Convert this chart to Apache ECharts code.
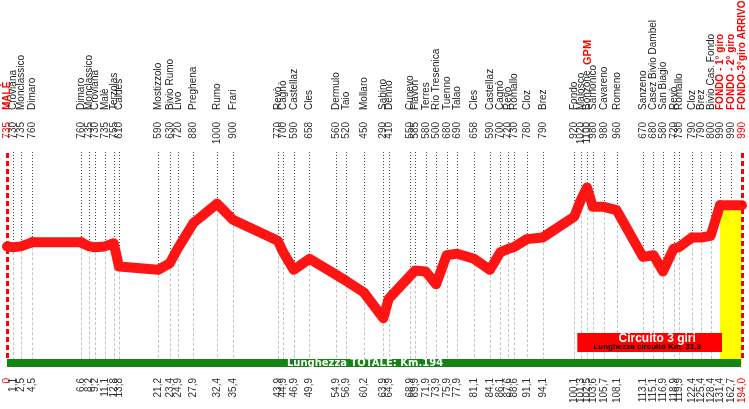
<!DOCTYPE html>
<html><head><meta charset="utf-8">
<script src="https://cdn.jsdelivr.net/npm/echarts@6/dist/echarts.min.js"></script>
<style>html,body{margin:0;padding:0;background:#fff}#c{width:749px;height:409px}</style>
</head><body><div id="c"></div>
<script>
// ---- data ----
const places = ['MALÈ','Croviana','Monclassico','Dimaro','Dimaro','Monclassico','Croviana','Malè','Terzolas','Caldes',
 'Mostizzolo','Bivio Rumo','Livo','Preghena','Rumo','Frari','Revò','Cagnò','Castellaz','Cles',
 'Dermulo','Taio','Mollaro','Sabino','Denno','Cunevo','Flavon','Terres','Rio Tresenica','Tuenno',
 'Talao','Cles','Castellaz','Cagnò','Revò','Romallo','Cloz','Brez','Fondo','Malosco',
 'Bonzone','Sarnonico','Cavareno','Romeno','Sanzeno','Casez Bivio Dambel','San Biagio','Revò','Romallo','Cloz',
 'Brez','Bivio Cas. Fondo','FONDO - 1° giro','FONDO - 2° giro','FONDO-3°giro ARRIVO'];
const altitudes = [735,730,735,760,760,735,730,735,755,610,
 590,630,720,880,1000,900,770,700,590,658,
 560,520,450,290,410,550,585,580,500,680,
 690,658,590,700,720,730,780,790,920,1020,
 1100,980,980,960,670,680,580,720,730,790,
 790,800,990,990,990];
const km = [0,1.1,2.5,4.5,6.6,8.2,9.2,11.1,12.8,13.8,
 21.2,23.4,24.9,27.9,32.4,35.4,43.9,44.9,46.9,49.9,
 54.9,56.9,60.2,63.9,64.9,68.9,69.9,71.9,73.9,75.9,
 77.9,81.1,84.1,86.1,87.6,88.6,91.1,94.1,100.1,101.3,
 102.5,103.6,105.7,108.1,113.1,115.1,116.9,118.9,119.9,122.4,
 125.4,128.4,131.4,162.7,194.0];
const gpmPlace = 'Bonzone';
const redPlaces = [0, 52, 53, 54];
const circuitStartKm = 100.1;
const circuitEndKm = 131.4;
const circuitLaps = 3;
const circuitLength = '31,3';

// ---- layout (piecewise horizontal scale of the original drawing) ----
const segments = [
  {from: 0,     to: 4.5,   left: 7,   width: 25},
  {from: 4.5,   to: 6.6,   left: 32,  width: 49},
  {from: 6.6,   to: 122.4, left: 81,  width: 611},
  {from: 122.4, to: 131.4, left: 692, width: 28},
  {from: 131.4, to: 194.0, left: 720, width: 22, covered: true}
];
const Y_MAX = 1320, GRID_TOP = 152, GRID_H = 213;
const FONT = '"Liberation Sans", Arial, sans-serif';
const LINE_RED = '#ff1414';
const last = km.length - 1;

function fmtKm(v) { return v === 0 ? '0' : v.toFixed(1).replace('.', ','); }

function makeRender(seg) {
  return function (params, api) {
    const i = api.value(2);
    const k = api.value(0), a = api.value(1);
    const top = api.coord([k, Y_MAX]);
    const p = api.coord([k, a]);
    const bot = api.coord([k, 0]);
    const x = Math.round(p[0]) + 0.5;
    const endpoint = (i === 0 || i === last);
    const children = [];
    if (endpoint) {
      children.push({type: 'line', shape: {x1: x, y1: top[1] + 1, x2: x, y2: bot[1] - 4},
        style: {stroke: '#ff0000', lineWidth: 3, lineDash: [5, 3]}});
    } else {
      children.push({type: 'line', shape: {x1: x, y1: top[1], x2: x, y2: p[1] - 5},
        style: {stroke: '#444', lineWidth: 1, lineDash: [1, 2]}});
      if (!seg.covered) {
        children.push({type: 'line', shape: {x1: x, y1: p[1] + 5, x2: x, y2: bot[1]},
          style: {stroke: '#c4c4c4', lineWidth: 1, lineDash: [3, 2]}});
      }
    }
    const isRed = redPlaces.indexOf(i) >= 0;
    const nameStyle = {
      text: places[i], fill: isRed ? '#ff0000' : '#222',
      font: (isRed ? 'bold ' : '') + '10px ' + FONT,
      align: 'left', verticalAlign: 'middle', textAlign: 'left', textVerticalAlign: 'middle'
    };
    if (places[i] === gpmPlace) {
      nameStyle.text = '{n|' + places[i] + '}  {g|GPM}';
      nameStyle.rich = {n: {fill: '#222', font: '10px ' + FONT}, g: {fill: '#ff0000', font: 'bold 11px ' + FONT}};
    }
    children.push({type: 'text', x: x, y: top[1] - 42, rotation: Math.PI / 2, style: nameStyle});
    children.push({type: 'text', x: x, y: top[1] - 30, rotation: Math.PI / 2,
      style: {text: String(altitudes[i]), fill: endpoint ? '#ff0000' : '#333', font: '10px ' + FONT,
        align: 'right', verticalAlign: 'middle', textAlign: 'right', textVerticalAlign: 'middle'}});
    children.push({type: 'text', x: x, y: bot[1] + 13, rotation: Math.PI / 2,
      style: {text: fmtKm(km[i]), fill: endpoint ? '#ff0000' : '#333', font: '10px ' + FONT,
        align: 'right', verticalAlign: 'middle', textAlign: 'right', textVerticalAlign: 'middle'}});
    return {type: 'group', children: children};
  };
}

const grids = [], xAxes = [], yAxes = [], series = [];
segments.forEach(function (seg, si) {
  grids.push({left: seg.left, top: GRID_TOP, width: seg.width, height: GRID_H});
  xAxes.push({type: 'value', gridIndex: si, min: seg.from, max: seg.to, show: false});
  yAxes.push({type: 'value', gridIndex: si, min: 0, max: Y_MAX, show: false});
  const linePts = [], own = [];
  km.forEach(function (k, i) {
    if (k >= seg.from && k <= seg.to) linePts.push([k, altitudes[i]]);
    const isLastSeg = si === segments.length - 1;
    if (k >= seg.from && (k < seg.to || (isLastSeg && k <= seg.to))) own.push([k, altitudes[i], i]);
  });
  series.push({
    type: 'custom', xAxisIndex: si, yAxisIndex: si, data: own,
    renderItem: makeRender(seg), z: seg.covered ? 6 : 3, silent: true, clip: false
  });
  const ls = {
    type: 'line', xAxisIndex: si, yAxisIndex: si, data: linePts, symbol: 'none',
    clip: false, silent: true, z: 5,
    lineStyle: {color: LINE_RED, width: 10, cap: 'round', join: 'round'}
  };
  if (seg.covered) ls.areaStyle = {color: '#ffff00', opacity: 1};
  series.push(ls);
});

const chart = echarts.init(document.getElementById('c'));
chart.setOption({
  animation: false,
  backgroundColor: '#ffffff',
  grid: grids, xAxis: xAxes, yAxis: yAxes, series: series
});

function kmToPx(k) {
  for (let s = 0; s < segments.length; s++) {
    if (k >= segments[s].from && k <= segments[s].to) {
      return chart.convertToPixel({gridIndex: s}, [k, 0]);
    }
  }
  return null;
}
const cs = kmToPx(circuitStartKm), ce = kmToPx(circuitEndKm);
const k0 = kmToPx(km[0]), kl = kmToPx(km[last]);
chart.setOption({
  graphic: [
    {type: 'rect', z: 100, shape: {x: cs[0] + 3, y: 333, width: ce[0] - cs[0] - 1, height: 19}, style: {fill: '#ff0000'}},
    {type: 'text', z: 101, x: (cs[0] + ce[0]) / 2 + 10, y: 339,
      style: {text: 'Circuito ' + circuitLaps + ' giri', fill: '#ffffff', font: 'bold 12px ' + FONT,
        align: 'center', verticalAlign: 'middle', textAlign: 'center', textVerticalAlign: 'middle'}},
    {type: 'text', z: 101, x: (cs[0] + ce[0]) / 2, y: 347,
      style: {text: 'Lunghezza circuito Km. ' + circuitLength, fill: '#000000', font: 'bold 8px ' + FONT,
        align: 'center', verticalAlign: 'middle', textAlign: 'center', textVerticalAlign: 'middle'}},
    {type: 'rect', z: 100, shape: {x: k0[0], y: 359, width: kl[0] - k0[0] - 1, height: 8}, style: {fill: '#148214'}},
    {type: 'text', z: 101, x: 365, y: 363,
      style: {text: 'Lunghezza TOTALE: Km.' + km[last], fill: '#ffffff', font: 'bold 10px "DejaVu Sans", sans-serif',
        align: 'center', verticalAlign: 'middle', textAlign: 'center', textVerticalAlign: 'middle'}}
  ]
});
</script>
</body></html>
